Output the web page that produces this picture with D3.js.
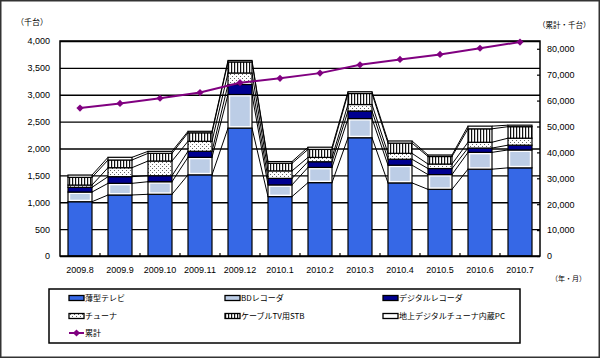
<!DOCTYPE html>
<html>
<head>
<meta charset="utf-8">
<script src="https://cdn.jsdelivr.net/npm/d3@7"></script>
<style>
  body { margin: 0; background: #fff; }
  svg { display: block; font-family: Arial, "Liberation Sans", sans-serif; }
  .jp { font-family: "Noto Sans CJK JP", sans-serif; }
</style>
</head>
<body>
<div id="graf"></div>
<script>
// I. Datos

meses = ['2009.8', '2009.9', '2009.10', '2009.11', '2009.12', '2010.1',
         '2010.2', '2010.3', '2010.4', '2010.5', '2010.6', '2010.7']

// thousand units per month
tv     = [1010, 1135, 1148, 1510, 2380, 1105, 1365, 2200, 1360, 1240, 1615, 1640]
bd     = [ 180,  217,  234,  326,  625,  218,  283,  357,  330,  275,  313,  333]
digRec = [  87,  124,  112,  112,  186,  121,  106,  140,  110,  112,   80,   89]
tuner  = [  43,  167,  273,  186,  214,  140,   80,  121,  110,   84,  108,  130]
stb    = [ 143,  143,  143,  158,  205,  140,  149,  205,  190,  140,  250,  214]
pc     = [  43,   50,   37,   28,   28,   33,   41,   33,   40,   28,   50,   28]

// cumulative, thousand units
ruikei = [57100, 58900, 60900, 63100, 66900, 68600, 70600, 73800, 75900, 77800, 80200, 82600]

seriesNames = ['薄型テレビ', 'BDレコーダ', 'デジタルレコーダ', 'チューナ', 'ケーブルTV用STB', '地上デジタルチューナ内蔵PC']
lineName = '累計'

ticksLeft = [0, 500, 1000, 1500, 2000, 2500, 3000, 3500, 4000]
ticksRight = [0, 10000, 20000, 30000, 40000, 50000, 60000, 70000, 80000]

// II. Configuracion

ancho_total = 600
alto_total = 358
plot = { left: 60, right: 540, top: 41, bottom: 256 }

fills = ['#3668e6', 'url(#bdFill)', '#000090', 'url(#dots)', 'url(#stripes)', '#ffffff']
lineColor = '#800080'

svg = d3.select('#graf').append('svg')
    .attr('width', ancho_total)
    .attr('height', alto_total)

defs = svg.append('defs')

dots = defs.append('pattern').attr('id', 'dots')
    .attr('patternUnits', 'userSpaceOnUse').attr('width', 4).attr('height', 4)
dots.append('rect').attr('width', 4).attr('height', 4).attr('fill', '#fff')
dots.append('rect').attr('x', 0).attr('y', 0).attr('width', 1).attr('height', 1).attr('fill', '#666')
dots.append('rect').attr('x', 2).attr('y', 2).attr('width', 1).attr('height', 1).attr('fill', '#666')

stripes = defs.append('pattern').attr('id', 'stripes')
    .attr('patternUnits', 'userSpaceOnUse').attr('width', 3).attr('height', 6)
stripes.append('rect').attr('width', 3).attr('height', 6).attr('fill', '#fff')
stripes.append('rect').attr('x', 0).attr('width', 1.2).attr('height', 6).attr('fill', '#111')

x = d3.scaleBand()
    .domain(meses)
    .range([plot.left, plot.right])
    .paddingInner(0.4)
    .paddingOuter(0.2)

y = d3.scaleLinear().domain([0, 4000]).range([plot.bottom, plot.top])
y2 = d3.scaleLinear().domain([0, 83000]).range([plot.bottom, plot.top])

// III. Render

// outer frame
svg.append('rect')
    .attr('x', 0.75).attr('y', 0.75)
    .attr('width', ancho_total - 1.5).attr('height', alto_total - 1.5)
    .attr('fill', 'none').attr('stroke', '#333').attr('stroke-width', 1.5)

// gridlines
svg.append('g')
    .attr('transform', `translate(${plot.left},0)`)
    .call(d3.axisLeft(y).tickValues(ticksLeft).tickSize(-(plot.right - plot.left)).tickFormat(''))
    .call(g => g.select('.domain').remove())
    .selectAll('line').attr('stroke', '#000').attr('stroke-width', 1.4)

// stacked data
tabla = meses.map((m, i) => ({ mes: m, s0: tv[i], s1: bd[i], s2: digRec[i], s3: tuner[i], s4: stb[i], s5: pc[i] }))
stack = d3.stack().keys(['s0', 's1', 's2', 's3', 's4', 's5'])(tabla)

// series lines between bars
gap = x.step() - x.bandwidth()
serieLines = svg.append('g')
stack.forEach(layer => {
    for (let i = 0; i < layer.length - 1; i++) {
        serieLines.append('line')
            .attr('x1', x(meses[i]) + x.bandwidth())
            .attr('x2', x(meses[i + 1]))
            .attr('y1', y(layer[i][1]))
            .attr('y2', y(layer[i + 1][1]))
            .attr('stroke', '#000').attr('stroke-width', 1)
    }
})

// bars
barras = svg.append('g')
stack.forEach((layer, k) => {
    layer.forEach((d, i) => {
        const bx = x(meses[i])
        const by = y(d[1])
        const bh = y(d[0]) - y(d[1])
        if (k === 1) {
            barras.append('rect')
                .attr('x', bx).attr('y', by).attr('width', x.bandwidth()).attr('height', bh)
                .attr('fill', '#fff').attr('stroke', '#000').attr('stroke-width', 1.2)
            barras.append('rect')
                .attr('x', bx + 2.2).attr('y', by + 2).attr('width', x.bandwidth() - 4.4).attr('height', Math.max(bh - 4, 0))
                .attr('fill', '#bccde6')
        } else {
            barras.append('rect')
                .attr('x', bx).attr('y', by).attr('width', x.bandwidth()).attr('height', bh)
                .attr('fill', fills[k]).attr('stroke', '#000').attr('stroke-width', 1.2)
        }
    })
})

// plot frame
svg.append('rect')
    .attr('x', plot.left).attr('y', plot.top)
    .attr('width', plot.right - plot.left).attr('height', plot.bottom - plot.top)
    .attr('fill', 'none').attr('stroke', '#000').attr('stroke-width', 1.5)

// left axis labels
yAxis = svg.append('g')
    .attr('transform', `translate(${plot.left},0)`)
    .call(d3.axisLeft(y).tickValues(ticksLeft).tickSize(0).tickPadding(10).tickFormat(d3.format(',')))
yAxis.select('.domain').remove()
yAxis.selectAll('text').attr('font-size', '9px').attr('fill', '#000').attr('font-family', 'Arial, "Liberation Sans", sans-serif')

// right axis
y2Axis = svg.append('g')
    .attr('transform', `translate(${plot.right},0)`)
    .call(d3.axisRight(y2).tickValues(ticksRight).tickSizeInner(-3).tickSizeOuter(0).tickPadding(7).tickFormat(d3.format(',')))
y2Axis.select('.domain').remove()
y2Axis.selectAll('line').attr('stroke', '#000').attr('stroke-width', 1.2)
y2Axis.selectAll('text').attr('font-size', '9px').attr('fill', '#000').attr('font-family', 'Arial, "Liberation Sans", sans-serif')

// bottom axis
xAxis = svg.append('g')
    .attr('transform', `translate(0,${plot.bottom})`)
    .call(d3.axisBottom(x).tickSize(0).tickPadding(11))
xAxis.select('.domain').remove()
xAxis.selectAll('text').attr('font-size', '9px').attr('fill', '#000').attr('font-family', 'Arial, "Liberation Sans", sans-serif')

// small category boundary ticks
svg.append('g').selectAll('line')
    .data(meses.slice(1))
    .join('line')
    .attr('x1', d => x(d) - gap / 2).attr('x2', d => x(d) - gap / 2)
    .attr('y1', plot.bottom - 3).attr('y2', plot.bottom)
    .attr('stroke', '#000').attr('stroke-width', 1.2)

// cumulative line
linea = d3.line()
    .x((d, i) => x(meses[i]) + x.bandwidth() / 2)
    .y(d => y2(d))

svg.append('path')
    .datum(ruikei)
    .attr('d', linea)
    .attr('fill', 'none')
    .attr('stroke', lineColor)
    .attr('stroke-width', 2)

diamante = d3.symbol(d3.symbolSquare, 26)
svg.append('g').selectAll('path')
    .data(ruikei)
    .join('path')
    .attr('d', diamante)
    .attr('transform', (d, i) => `translate(${x(meses[i]) + x.bandwidth() / 2},${y2(d)}) rotate(45)`)
    .attr('fill', lineColor)

// axis titles
svg.append('text').attr('class', 'jp')
    .attr('x', 16).attr('y', 25)
    .attr('font-size', '8px')
    .text('（千台）')

svg.append('text').attr('class', 'jp')
    .attr('x', 538).attr('y', 28)
    .attr('font-size', '7.5px')
    .text('（累計・千台）')

svg.append('text').attr('class', 'jp')
    .attr('x', 551).attr('y', 281)
    .attr('font-size', '7px')
    .text('（年・月）')

// IV. Leyenda

leyenda = svg.append('g')
leyenda.append('rect')
    .attr('x', 49).attr('y', 289).attr('width', 471).attr('height', 54)
    .attr('fill', '#fff').attr('stroke', '#000').attr('stroke-width', 1.5)

colX = [69, 225, 383]
rowY = [298, 316, 333]

seriesNames.forEach((name, k) => {
    const cx = colX[k % 3]
    const cy = rowY[Math.floor(k / 3)]
    if (k === 1) {
        leyenda.append('rect')
            .attr('x', cx).attr('y', cy - 2.5).attr('width', 15).attr('height', 5)
            .attr('fill', '#bccde6').attr('stroke', '#000').attr('stroke-width', 1.3)
    } else {
        leyenda.append('rect')
            .attr('x', cx).attr('y', cy - 2.5).attr('width', 15).attr('height', 5)
            .attr('fill', fills[k]).attr('stroke', '#000').attr('stroke-width', 1.3)
    }
    leyenda.append('text').attr('class', 'jp')
        .attr('x', cx + 16).attr('y', cy + 3)
        .attr('font-size', '8px')
        .text(name)
})

leyenda.append('line')
    .attr('x1', colX[0]).attr('x2', colX[0] + 15)
    .attr('y1', rowY[2]).attr('y2', rowY[2])
    .attr('stroke', lineColor).attr('stroke-width', 2)
leyenda.append('path')
    .attr('d', diamante)
    .attr('transform', `translate(${colX[0] + 7.5},${rowY[2]}) rotate(45)`)
    .attr('fill', lineColor)
leyenda.append('text').attr('class', 'jp')
    .attr('x', colX[0] + 16).attr('y', rowY[2] + 3)
    .attr('font-size', '8px')
    .text(lineName)
</script>
</body>
</html>
